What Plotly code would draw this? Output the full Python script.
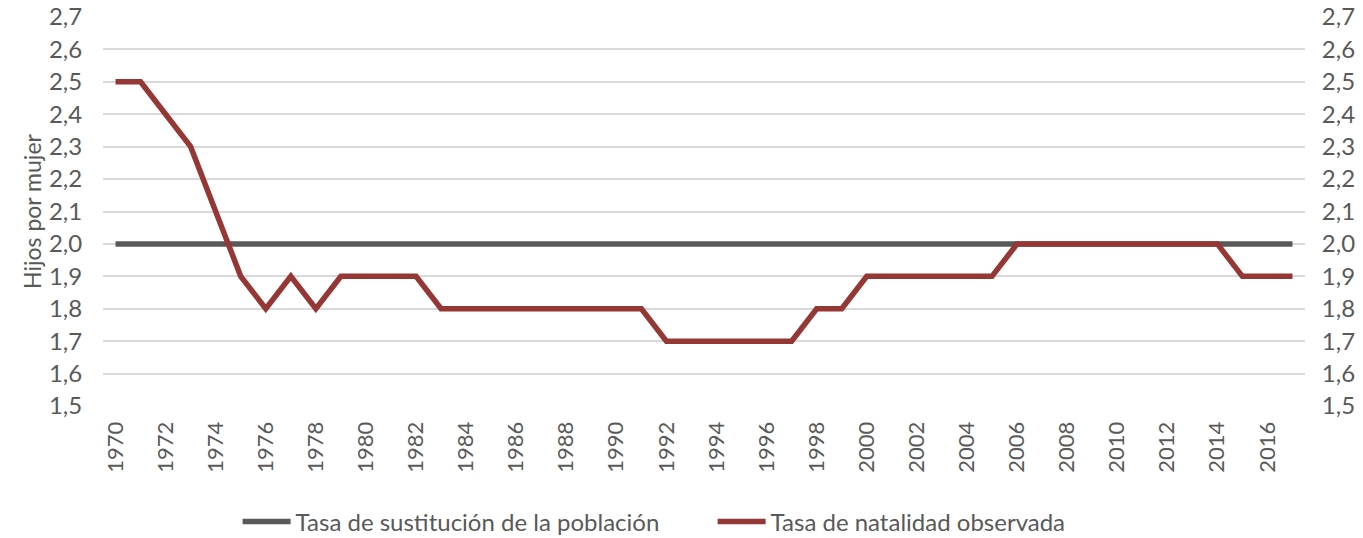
import plotly.graph_objects as go

years = list(range(1970, 2018))
sustitucion = [2.0] * len(years)
natalidad = [2.5, 2.5, 2.4, 2.3, 2.1, 1.9, 1.8, 1.9, 1.8, 1.9,
             1.9, 1.9, 1.9, 1.8, 1.8, 1.8, 1.8, 1.8, 1.8, 1.8,
             1.8, 1.8, 1.7, 1.7, 1.7, 1.7, 1.7, 1.7, 1.8, 1.8,
             1.9, 1.9, 1.9, 1.9, 1.9, 1.9, 2.0, 2.0, 2.0, 2.0,
             2.0, 2.0, 2.0, 2.0, 2.0, 1.9, 1.9, 1.9]
x_ticks = list(range(1970, 2017, 2))
y_ticks = [round(1.5 + 0.1 * i, 1) for i in range(13)]

FONT = "Lato"
TXT = "#595959"

fig = go.Figure()
fig.add_trace(go.Scatter(x=years, y=sustitucion, mode="lines",
                         name="Tasa de sustitución de la población",
                         line=dict(color="#595959", width=5.5)))
fig.add_trace(go.Scatter(x=years, y=natalidad, mode="lines",
                         name="Tasa de natalidad observada",
                         line=dict(color="#953735", width=5.5)))
fig.add_trace(go.Scatter(x=years, y=natalidad, mode="lines", yaxis="y2",
                         showlegend=False, hoverinfo="skip",
                         line=dict(color="rgba(0,0,0,0)", width=0)))

fig.update_layout(
    width=1363, height=538,
    paper_bgcolor="white", plot_bgcolor="white",
    margin=dict(l=103, r=58, t=17, b=132),
    separators=",.",
    font=dict(family=FONT, size=22, color=TXT),
    xaxis=dict(range=[1969.5, 2017.5], tickvals=x_ticks, tickangle=-90,
               showgrid=False, zeroline=False, showline=False,
               ticks="outside", ticklen=6, tickcolor="rgba(0,0,0,0)",
               automargin=False, tickfont=dict(size=22, color=TXT)),
    yaxis=dict(range=[1.5, 2.7], tickvals=y_ticks, tickformat=".1f",
               gridcolor="#d9d9d9", gridwidth=1.5, zeroline=False,
               showline=False, ticks="outside", ticklen=15,
               tickcolor="rgba(0,0,0,0)", automargin=False,
               title=dict(text="Hijos por mujer", standoff=0,
                          font=dict(size=23, color=TXT)),
               tickfont=dict(size=24, color=TXT)),
    yaxis2=dict(range=[1.5, 2.7], tickvals=y_ticks, tickformat=".1f",
                overlaying="y", side="right", showgrid=False,
                zeroline=False, showline=False, ticks="outside", ticklen=11,
                tickcolor="rgba(0,0,0,0)", automargin=False,
                tickfont=dict(size=24, color=TXT)),
    legend=dict(orientation="h", x=0.112, xanchor="left",
                yref="container", y=0.03, yanchor="middle",
                font=dict(size=24, color=TXT),
                itemwidth=48, entrywidth=412, traceorder="normal"),
    showlegend=True,
)

fig.write_html("out.html", config={"displayModeBar": False},
               post_script="document.body.style.margin='0';document.body.style.overflow='hidden';")
